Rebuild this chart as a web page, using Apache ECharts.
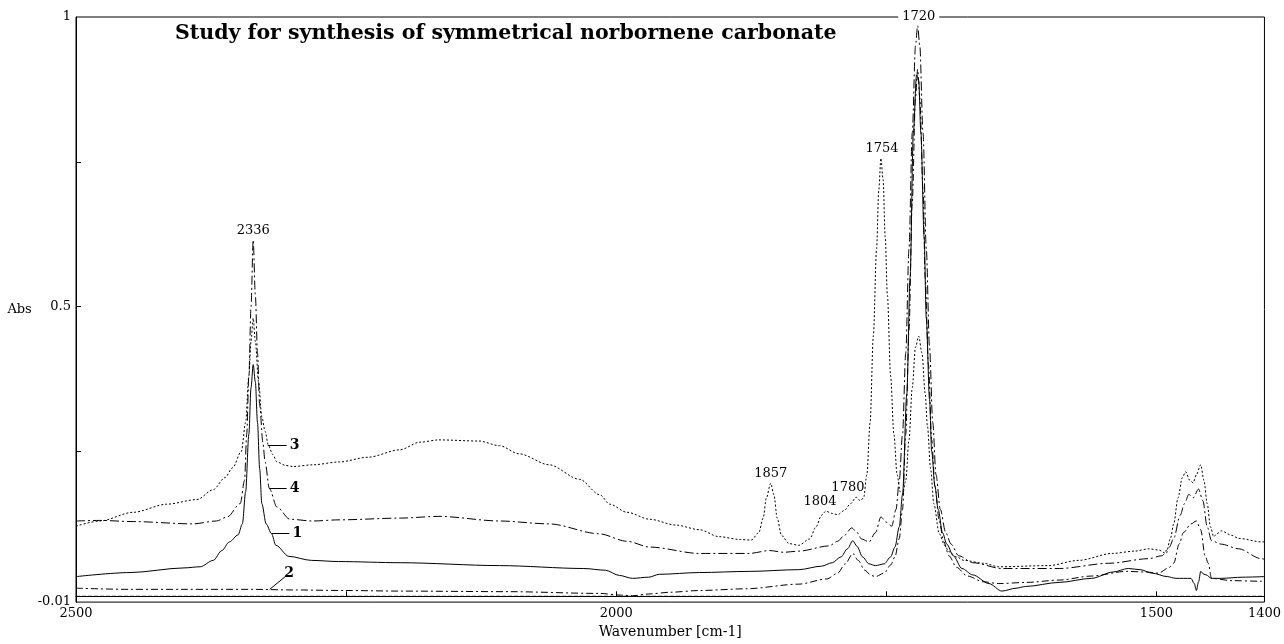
<!DOCTYPE html>
<html>
<head>
<meta charset="utf-8">
<script src="https://cdn.jsdelivr.net/npm/echarts@6/dist/echarts.min.js"></script>
<style>
  html, body { margin: 0; padding: 0; background: #fff; }
  #chart { width: 1284px; height: 644px; }
</style>
</head>
<body>
<div id="chart"></div>
<script>
// IR absorbance spectra, [wavenumber cm-1, absorbance]
const spectrum1 = [[2500,0.034],[2450,0.041],[2400,0.049],[2385,0.051],[2373,0.062],[2365,0.079],[2358,0.094],[2350,0.106],[2346,0.125],[2343,0.18],[2340,0.28],[2338,0.36],[2336,0.40],[2334,0.37],[2332,0.30],[2330,0.22],[2328,0.16],[2324,0.125],[2319,0.108],[2315,0.088],[2303,0.069],[2282,0.062],[2257,0.06],[2200,0.058],[2108,0.053],[2030,0.048],[2010,0.045],[1997,0.036],[1985,0.031],[1970,0.033],[1960,0.038],[1923,0.041],[1877,0.043],[1831,0.046],[1810,0.052],[1800,0.058],[1792,0.068],[1786,0.082],[1781,0.096],[1777,0.086],[1772,0.068],[1766,0.056],[1760,0.053],[1752,0.056],[1746,0.068],[1742,0.085],[1738,0.12],[1735,0.176],[1731,0.35],[1728,0.55],[1725,0.80],[1722,0.90],[1720,0.89],[1718,0.80],[1715,0.62],[1713,0.48],[1710,0.34],[1708,0.25],[1705,0.19],[1702,0.15],[1698,0.11],[1694,0.09],[1688,0.07],[1680,0.048],[1670,0.037],[1655,0.022],[1643,0.009],[1630,0.014],[1621,0.017],[1590,0.024],[1560,0.031],[1540,0.042],[1526,0.048],[1515,0.046],[1504,0.04],[1490,0.034],[1482,0.031],[1468,0.031],[1465,0.022],[1463,0.010],[1461,0.025],[1459,0.043],[1456,0.038],[1454,0.037],[1449,0.031],[1440,0.031],[1420,0.033],[1400,0.034]];

const spectrum2 = [[2500,0.014],[2450,0.012],[2400,0.012],[2336,0.012],[2300,0.011],[2250,0.010],[2200,0.009],[2100,0.008],[2016,0.005],[1995,0.002],[1985,0.001],[1970,0.004],[1950,0.007],[1923,0.010],[1880,0.013],[1831,0.021],[1805,0.03],[1795,0.04],[1788,0.056],[1781,0.074],[1776,0.062],[1770,0.045],[1764,0.036],[1760,0.034],[1752,0.040],[1746,0.054],[1742,0.068],[1738,0.10],[1735,0.15],[1732,0.28],[1729,0.46],[1726,0.68],[1723,0.86],[1721,0.91],[1719,0.86],[1716,0.70],[1714,0.55],[1711,0.40],[1708,0.27],[1705,0.19],[1701,0.13],[1697,0.095],[1692,0.07],[1685,0.05],[1675,0.035],[1660,0.025],[1646,0.022],[1620,0.024],[1590,0.028],[1560,0.035],[1528,0.043],[1510,0.042],[1498,0.04],[1488,0.05],[1484,0.057],[1479,0.09],[1475,0.11],[1468,0.125],[1463,0.13],[1459,0.115],[1455,0.07],[1452,0.057],[1449,0.031],[1430,0.027],[1403,0.026],[1400,0.026]];

const spectrum3 = [[2500,0.121],[2478,0.13],[2447,0.145],[2416,0.159],[2388,0.167],[2373,0.184],[2362,0.205],[2355,0.222],[2347,0.25],[2343,0.30],[2340,0.38],[2338,0.44],[2336,0.48],[2334,0.44],[2331,0.37],[2328,0.31],[2325,0.285],[2322,0.261],[2318,0.245],[2314,0.232],[2306,0.226],[2299,0.224],[2281,0.227],[2256,0.232],[2230,0.240],[2200,0.253],[2182,0.266],[2164,0.27],[2127,0.268],[2108,0.26],[2090,0.246],[2062,0.227],[2034,0.202],[2015,0.175],[2006,0.159],[1990,0.145],[1969,0.133],[1945,0.123],[1923,0.115],[1905,0.103],[1885,0.098],[1875,0.097],[1868,0.11],[1864,0.135],[1861,0.17],[1857,0.195],[1854,0.175],[1851,0.135],[1847,0.105],[1840,0.091],[1831,0.088],[1821,0.099],[1815,0.12],[1810,0.14],[1806,0.147],[1800,0.143],[1795,0.141],[1789,0.148],[1783,0.16],[1778,0.171],[1774,0.165],[1771,0.17],[1768,0.21],[1765,0.3],[1762,0.45],[1759,0.6],[1757,0.7],[1755,0.756],[1753,0.72],[1751,0.62],[1749,0.52],[1746,0.38],[1743,0.28],[1740,0.21],[1737,0.18],[1735,0.176],[1732,0.2],[1729,0.27],[1726,0.36],[1723,0.43],[1720,0.449],[1717,0.42],[1714,0.35],[1712,0.295],[1709,0.22],[1706,0.16],[1701,0.108],[1696,0.088],[1692,0.077],[1685,0.068],[1678,0.062],[1660,0.057],[1646,0.051],[1600,0.053],[1572,0.062],[1541,0.074],[1520,0.078],[1507,0.082],[1498,0.08],[1491,0.074],[1487,0.1],[1484,0.125],[1480,0.17],[1476,0.205],[1473,0.215],[1469,0.2],[1466,0.196],[1463,0.21],[1459,0.227],[1456,0.2],[1453,0.16],[1450,0.12],[1447,0.103],[1444,0.108],[1440,0.113],[1430,0.105],[1424,0.1],[1403,0.094],[1400,0.094]];

const spectrum4 = [[2500,0.130],[2478,0.131],[2447,0.129],[2392,0.125],[2370,0.13],[2360,0.137],[2348,0.16],[2344,0.20],[2342,0.28],[2340,0.38],[2338,0.5],[2336,0.615],[2334,0.52],[2332,0.42],[2330,0.33],[2327,0.265],[2325,0.232],[2321,0.186],[2314,0.154],[2302,0.133],[2281,0.13],[2256,0.132],[2200,0.135],[2164,0.138],[2108,0.13],[2062,0.125],[2016,0.108],[1990,0.095],[1969,0.085],[1923,0.074],[1877,0.074],[1858,0.079],[1845,0.076],[1831,0.078],[1803,0.087],[1795,0.095],[1789,0.105],[1782,0.118],[1777,0.11],[1773,0.099],[1766,0.094],[1760,0.11],[1755,0.137],[1750,0.128],[1745,0.121],[1741,0.15],[1738,0.2],[1735,0.28],[1732,0.42],[1729,0.6],[1726,0.8],[1723,0.95],[1721,0.985],[1719,0.95],[1716,0.8],[1713,0.6],[1710,0.43],[1707,0.3],[1704,0.21],[1700,0.15],[1695,0.11],[1690,0.09],[1683,0.07],[1670,0.058],[1643,0.048],[1590,0.048],[1544,0.057],[1507,0.065],[1495,0.07],[1488,0.085],[1484,0.1],[1478,0.14],[1474,0.16],[1470,0.176],[1466,0.17],[1461,0.185],[1457,0.165],[1453,0.12],[1449,0.096],[1440,0.09],[1424,0.082],[1403,0.065],[1400,0.064]];

const baseline = [[2500,0],[1400,0]];

// peak annotations: [wavenumber, absorbance at the label]
const peaks4 = [[2336,0.615]];
const peaks3 = [[1857,0.195],[1804,0.147],[1780,0.171],[1754,0.756]];
const topPeak = [1720, 1];

const xLabelValues = [2500, 2000, 1500, 1400];
const xTickValues = [2250, 2000, 1750, 1500];
const yLabelValues = [-0.01, 0.5, 1];
const yTickValues = [0.25, 0.5, 0.75];

const serif = '"DejaVu Serif", "Liberation Serif", serif';
const ink = '#000';

function curveTag(x1, y1, x2, y2, text) {
  return [
    { coord: [x1, y1] },
    { coord: [x2, y2], label: { show: true, position: 'end', formatter: text, distance: 3,
      fontFamily: serif, fontWeight: 'bold', fontSize: 14, color: ink } }
  ];
}

function peakMark(p, dx, dy) {
  return {
    coord: p, value: p[0],
    label: { show: true, position: 'top', distance: 3, offset: [dx || 0, dy || 0],
      formatter: String(p[0]), fontFamily: serif, fontSize: 13, color: ink }
  };
}

function spectrumSeries(name, data, dash, extra) {
  return Object.assign({
    name: name, type: 'line', data: data, showSymbol: false, symbol: 'none',
    smooth: 0.3, smoothMonotone: 'x', silent: true,
    lineStyle: { color: ink, width: 1, type: dash },
    z: 3
  }, extra || {});
}

const chart = echarts.init(document.getElementById('chart'), null, { renderer: 'canvas' });

chart.setOption({
  animation: false,
  backgroundColor: '#fff',
  title: {
    text: 'Study for synthesis of symmetrical norbornene carbonate',
    left: 175, top: 23, padding: 0,
    textStyle: { fontFamily: serif, fontWeight: 'bold', fontSize: 20.5, color: ink }
  },
  grid: { left: 76, right: 18, top: 17, bottom: 35, show: true, borderColor: ink, borderWidth: 1, backgroundColor: 'transparent' },
  xAxis: {
    type: 'value', min: 1400, max: 2500, inverse: true,
    name: 'Wavenumber [cm-1]', nameLocation: 'middle', nameGap: 18,
    nameTextStyle: { fontFamily: serif, fontSize: 14, color: ink },
    axisLine: { show: true, lineStyle: { color: ink, width: 1 } },
    axisTick: { show: true, inside: true, length: 5, customValues: xTickValues, lineStyle: { color: ink } },
    axisLabel: { show: true, customValues: xLabelValues, margin: 5, fontFamily: serif, fontSize: 13, color: ink,
      formatter: v => String(v) },
    splitLine: { show: false }
  },
  yAxis: {
    type: 'value', min: -0.01, max: 1,
    name: 'Abs', nameLocation: 'middle', nameRotate: 0, nameGap: 40,
    nameTextStyle: { fontFamily: serif, fontSize: 13, color: ink },
    axisLine: { show: true, lineStyle: { color: ink, width: 1 } },
    axisTick: { show: true, inside: true, length: 5, customValues: yTickValues, lineStyle: { color: ink } },
    axisLabel: { show: true, customValues: yLabelValues, margin: 5, fontFamily: serif, fontSize: 13, color: ink,
      formatter: v => String(v) },
    splitLine: { show: false }
  },
  series: [
    spectrumSeries('baseline', baseline, [4, 2], { smooth: false }),
    spectrumSeries('2', spectrum2, [7, 3, 2, 3], {
      markLine: { silent: true, symbol: 'none', animation: false, lineStyle: { color: ink, width: 1, type: 'solid' },
        data: [curveTag(2320.7, 0.012, 2305, 0.036, '2')] }
    }),
    spectrumSeries('1', spectrum1, 'solid', {
      markLine: { silent: true, symbol: 'none', animation: false, lineStyle: { color: ink, width: 1, type: 'solid' },
        data: [curveTag(2318.8, 0.109, 2302.5, 0.109, '1')] }
    }),
    spectrumSeries('4', spectrum4, [9, 3, 2, 3], {
      markLine: { silent: true, symbol: 'none', animation: false, lineStyle: { color: ink, width: 1, type: 'solid' },
        data: [curveTag(2321, 0.186, 2305, 0.186, '4')] },
      markPoint: { symbol: 'circle', symbolSize: 0, silent: true, animation: false,
        data: peaks4.map(p => peakMark(p)).concat([{
          coord: topPeak, value: topPeak[0],
          label: { show: true, position: 'inside', formatter: String(topPeak[0]), fontFamily: serif, fontSize: 13,
            color: ink, backgroundColor: '#fff', padding: [1, 4] }
        }]) }
    }),
    spectrumSeries('3', spectrum3, [2, 2], {
      markLine: { silent: true, symbol: 'none', animation: false, lineStyle: { color: ink, width: 1, type: 'solid' },
        data: [curveTag(2322.5, 0.261, 2305, 0.261, '3')] },
      markPoint: { symbol: 'circle', symbolSize: 0, silent: true, animation: false,
        data: [peakMark(peaks3[0]), peakMark(peaks3[1], -8, 0), peakMark(peaks3[2], -6, 0), peakMark(peaks3[3])] }
    })
  ]
});
</script>
</body>
</html>
